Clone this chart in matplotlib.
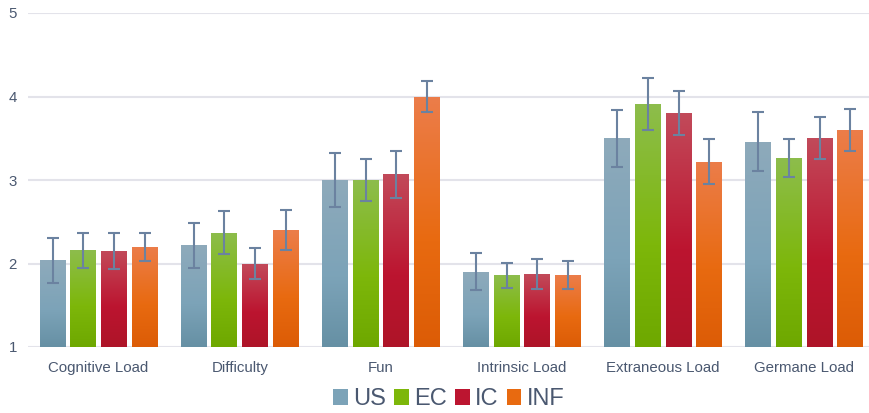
import numpy as np
import matplotlib
matplotlib.use('Agg')
import matplotlib.pyplot as plt
from matplotlib.colors import to_rgb
from matplotlib.patches import Patch

#====== data
categories = ['Cognitive Load', 'Difficulty', 'Fun', 'Intrinsic Load', 'Extraneous Load', 'Germane Load']
groups = ['US', 'EC', 'IC', 'INF']

us_mean = [2.04, 2.22, 3.00, 1.90, 3.50, 3.46]
ec_mean = [2.16, 2.37, 3.00, 1.86, 3.91, 3.26]
ic_mean = [2.15, 2.00, 3.07, 1.87, 3.80, 3.50]
inf_mean = [2.20, 2.40, 4.00, 1.86, 3.22, 3.60]

us_err = [0.27, 0.27, 0.32, 0.22, 0.34, 0.35]
ec_err = [0.21, 0.26, 0.25, 0.15, 0.31, 0.23]
ic_err = [0.21, 0.19, 0.28, 0.18, 0.26, 0.25]
inf_err = [0.17, 0.24, 0.18, 0.17, 0.27, 0.25]

#====== style
# (top, middle, bottom) gradient stops for each series
grad = {
    'US': ('#8eaabb', '#7ca3b8', '#6690a4'),
    'EC': ('#8dbd4c', '#7db70a', '#6ea800'),
    'IC': ('#c24a5a', '#bc1530', '#ae1428'),
    'INF': ('#ec7d4a', '#e86a10', '#dc5c06'),
}
txt_col = '#4a5870'
grid_col = '#e3e3ea'
err_col = '#6b82a0'

plt.rcParams['font.family'] = ['Liberation Sans', 'DejaVu Sans']

means = [us_mean, ec_mean, ic_mean, inf_mean]
errs = [us_err, ec_err, ic_err, inf_err]


def gradient(top, mid, bot, n=200):
    t, m, b = np.array(to_rgb(top)), np.array(to_rgb(mid)), np.array(to_rgb(bot))
    s = np.linspace(0, 1, n)[:, None]
    split = 0.58
    col = np.where(s < split, t + (m - t) * (s / split), m + (b - m) * ((s - split) / (1 - split)))
    return col[:, None, :]


fig = plt.figure(figsize=(8.7, 4.13), dpi=100)
ax = fig.add_axes([28 / 870, 1 - 347 / 413, 847 / 870, (347 - 13) / 413])

x = np.arange(len(categories))
pitch = 0.2175
width = 0.184

for i, g in enumerate(groups):
    pos = x + (i - 1.5) * pitch
    bars = ax.bar(pos, np.array(means[i]) - 1, width, bottom=1, color='none', zorder=3)
    img = gradient(*grad[g])
    for r in bars:
        x0, y0 = r.get_x(), r.get_y()
        im = ax.imshow(img, extent=(x0, x0 + r.get_width(), y0, y0 + r.get_height()),
                       aspect='auto', zorder=3, interpolation='bilinear')
        im.set_clip_path(r)
    ax.errorbar(pos, means[i], yerr=errs[i], fmt='none', ecolor=err_col,
                elinewidth=1.5, capsize=4.5, capthick=1.5, zorder=5)

ax.set_xlim(-0.5, len(categories) - 0.5)
ax.set_ylim(1, 5)
ax.set_yticks([1, 2, 3, 4, 5])
ax.set_xticks(x)
ax.set_xticklabels(categories)
ax.yaxis.grid(True, color=grid_col, linewidth=1.5, zorder=0)
ax.set_axisbelow(True)
for s in ax.spines.values():
    s.set_visible(False)
ax.tick_params(axis='both', length=0, labelsize=10.8, colors=txt_col)
ax.tick_params(axis='x', pad=10)
ax.tick_params(axis='y', pad=8)

handles = [Patch(facecolor=grad[g][1], edgecolor='none') for g in groups]
leg = fig.legend(handles, groups, loc='lower center', bbox_to_anchor=(0.516, -0.045), ncol=4,
                 frameon=False, fontsize=17, handlelength=0.62, handleheight=0.62,
                 handletextpad=0.22, columnspacing=0.35)
for t in leg.get_texts():
    t.set_color(txt_col)

fig.savefig('out.png', dpi=100)
